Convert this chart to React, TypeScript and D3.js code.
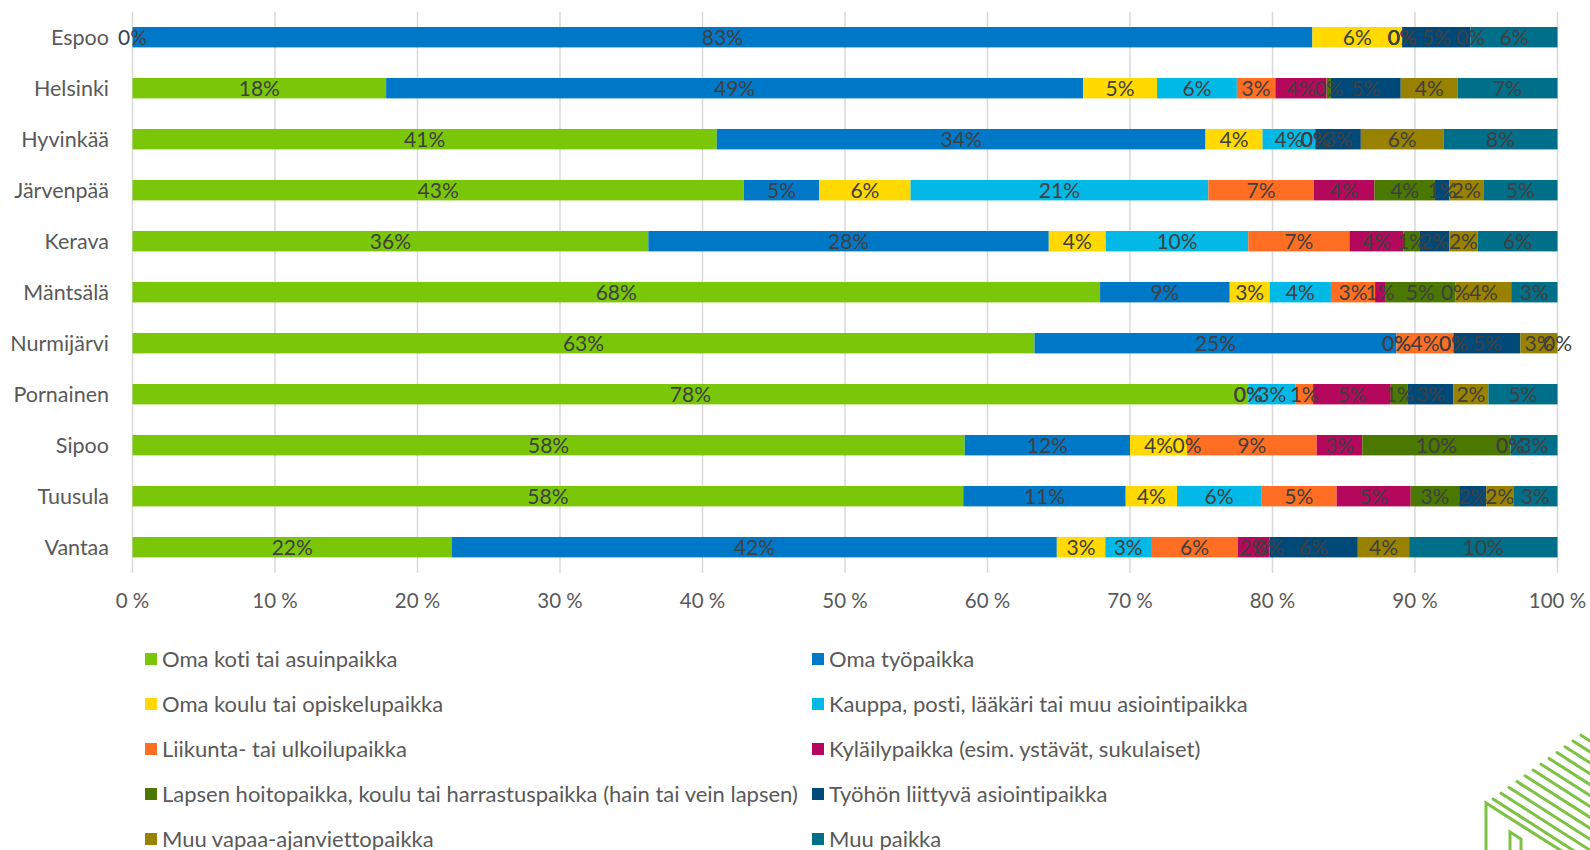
import React from "react";
import * as d3 from "d3";

// kunnat (y-akseli)
const cities = [
  "Espoo", "Helsinki", "Hyvinkää", "Järvenpää", "Kerava", "Mäntsälä",
  "Nurmijärvi", "Pornainen", "Sipoo", "Tuusula", "Vantaa",
];

// sarjojen arvot (%), järjestys kuten cities
const omaKoti = [0, 17.8, 41.0, 42.9, 36.2, 67.9, 63.3, 78.3, 58.4, 58.3, 22.4];
const omaTyopaikka = [82.8, 48.9, 34.3, 5.3, 28.1, 9.1, 25.4, 0, 11.6, 11.4, 42.4];
const omaKoulu = [6.3, 5.2, 4.0, 6.4, 4.0, 2.8, 0, 0, 4.0, 3.6, 3.4];
const kauppa = [0, 5.6, 3.7, 20.9, 10.0, 4.3, 0, 3.3, 0, 5.9, 3.2];
const liikunta = [0, 2.7, 0, 7.4, 7.1, 3.1, 4.0, 1.25, 9.1, 5.3, 6.1];
const kylaily = [0, 3.6, 0, 4.25, 3.8, 0.7, 0, 5.45, 3.2, 5.2, 2.2];
const lapsenHoito = [0, 0.3, 0, 4.25, 1.1, 4.95, 0, 1.2, 10.4, 3.4, 0];
const tyoAsiointi = [4.8, 4.9, 3.2, 1.0, 2.1, 0, 4.7, 3.2, 0, 1.9, 6.2];
const muuVapaa = [0, 4.0, 5.8, 2.4, 2.0, 3.9, 2.6, 2.45, 0, 1.9, 3.6];
const muuPaikka = [6.1, 7.0, 8.0, 5.2, 5.6, 3.25, 0, 4.85, 3.3, 3.1, 10.4];

const seriesNames = [
  "Oma koti tai asuinpaikka",
  "Oma työpaikka",
  "Oma koulu tai opiskelupaikka",
  "Kauppa, posti, lääkäri tai muu asiointipaikka",
  "Liikunta- tai ulkoilupaikka",
  "Kyläilypaikka (esim. ystävät, sukulaiset)",
  "Lapsen hoitopaikka, koulu tai harrastuspaikka (hain tai vein lapsen)",
  "Työhön liittyvä asiointipaikka",
  "Muu vapaa-ajanviettopaikka",
  "Muu paikka",
];
const seriesValues = [
  omaKoti, omaTyopaikka, omaKoulu, kauppa, liikunta,
  kylaily, lapsenHoito, tyoAsiointi, muuVapaa, muuPaikka,
];
const colors = [
  "#7AC70A", "#0078C8", "#FFD900", "#00B9E6", "#FF6E22",
  "#B5085D", "#4A7800", "#004A7A", "#998200", "#006F89",
];
const xTicks = [0, 0.1, 0.2, 0.3, 0.4, 0.5, 0.6, 0.7, 0.8, 0.9, 1];

const W = 1590;
const H = 850;
const FONT = "Lato, 'Open Sans', sans-serif";

export default function App() {
  const rows = cities.map((c, i) => {
    const r: any = { city: c };
    seriesNames.forEach((s, j) => (r[s] = seriesValues[j][i]));
    return r;
  });
  const stacked = d3
    .stack()
    .keys(seriesNames)
    .offset(d3.stackOffsetExpand)(rows);

  const x = d3.scaleLinear().domain([0, 1]).range([132.5, 1557.5]);
  const y = d3
    .scaleBand()
    .domain(cities)
    .range([11.7, 572.7])
    .paddingInner(0.6)
    .paddingOuter(0.3);
  const fmt = (v: number) => d3.format(".0f")(v) + "%";
  const tickFmt = (v: number) => Math.round(v * 100) + " %";

  // logon raidat
  const stripeStarts = d3.range(12).map((i) => [1493 + i * 8, 799 - i * 5.8]);

  return (
    <svg
      width={W}
      height={H}
      style={{ position: "absolute", left: 0, top: 0, background: "#fff", fontVariantLigatures: "none" }}
      fontFamily={FONT}
    >
      <g>
        {xTicks.map((t) => (
          <line key={t} x1={x(t)} x2={x(t)} y1={11.7} y2={572.7} stroke="#D9D9D9" strokeWidth={1.5} />
        ))}
      </g>
      {stacked.map((layer, j) => (
        <g key={layer.key} fill={colors[j]}>
          {layer.map((d, i) => (
            <rect
              key={i}
              x={x(d[0])}
              y={y(cities[i])}
              width={Math.max(0, x(d[1]) - x(d[0]))}
              height={y.bandwidth()}
            />
          ))}
        </g>
      ))}
      {stacked.map((layer, j) => (
        <g key={layer.key + "-l"} fill="#404040" fontSize={21} textAnchor="middle">
          {layer.map((d, i) => (
            <text key={i} x={(x(d[0]) + x(d[1])) / 2} y={y(cities[i])! + y.bandwidth() / 2} dy="0.36em">
              {fmt(seriesValues[j][i])}
            </text>
          ))}
        </g>
      ))}
      <g fill="#595959" fontSize={21.5} textAnchor="end">
        {cities.map((c) => (
          <text key={c} x={109} y={y(c)! + y.bandwidth() / 2} dy="0.36em">
            {c}
          </text>
        ))}
      </g>
      <g fill="#595959" fontSize={20.5} textAnchor="middle">
        {xTicks.map((t) => (
          <text key={t} x={x(t)} y={601} dy="0.36em">
            {tickFmt(t)}
          </text>
        ))}
      </g>
      <g fill="#595959" fontSize={22}>
        {seriesNames.map((s, j) => {
          const col = j % 2;
          const row = Math.floor(j / 2);
          const lx = col === 0 ? 145 : 812;
          const ly = 659 + row * 45;
          return (
            <g key={s}>
              <rect x={lx} y={ly - 6} width={12} height={12} fill={colors[j]} />
              <text x={lx + 17} y={ly} dy="0.36em">
                {s}
              </text>
            </g>
          );
        })}
      </g>
      <g stroke="#7DC242" strokeWidth={3} fill="none" strokeLinecap="round">
        <polyline points="1486,852 1486,803 1590,869" />
        {stripeStarts.map(([sx, sy], i) => (
          <line key={i} x1={sx} y1={sy} x2={1592} y2={sy + (1592 - sx) * 0.64} />
        ))}
        <polyline points="1510,852 1510,832 1521,839 1521,852" />
      </g>
    </svg>
  );
}
